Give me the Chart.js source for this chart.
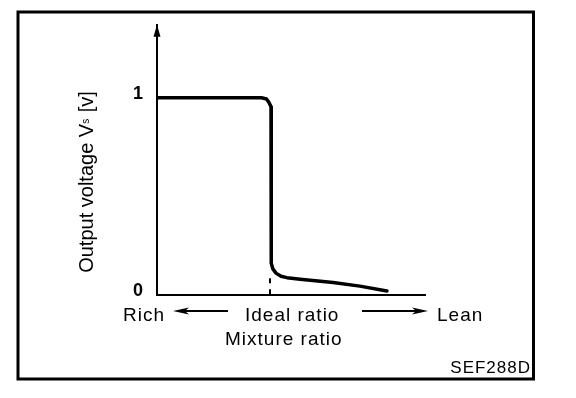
<!DOCTYPE html>
<html>
<head>
<meta charset="utf-8">
<script src="https://cdn.jsdelivr.net/npm/chart.js@4"></script>
<style>
  html, body { margin: 0; padding: 0; background: #fff; }
  #wrap { position: relative; width: 576px; height: 398px; }
</style>
</head>
<body>
<div id="wrap"><canvas id="chart" width="576" height="398"></canvas></div>
<script>
// mixture ratio (arbitrary units, 0 = far rich, 100 = far lean)
const curveX = [0, 37.7, 39.0, 40.86, 41.72, 42.54, 42.54, 42.72, 43.28, 44.4, 46.27, 48.5, 53.4, 65.7, 75.7, 85.8];
// output voltage Vs [v]
const curveY = [1.0, 1.0, 1.0, 0.994, 0.977, 0.955, 0.201, 0.161, 0.131, 0.111, 0.095, 0.088, 0.080, 0.063, 0.045, 0.020];

const idealX = [42.16, 42.16];
const idealY = [0.085, 0];

const yTicks = [0, 1];
const yMax = 1.37;

const yTitle = ["Output voltage V", "s", " [v]"];
const bottomLabels = { rich: "Rich", ideal: "Ideal ratio", lean: "Lean" };
const xTitle = "Mixture ratio";
const figCode = "SEF288D";

const FONT = "'Liberation Sans', Arial, sans-serif";

function toPoints(xs, ys) {
  return xs.map((x, i) => ({ x, y: ys[i] }));
}

function arrow(ctx, fromX, toX, y) {
  const dir = Math.sign(toX - fromX);
  ctx.beginPath();
  ctx.moveTo(fromX, y);
  ctx.lineTo(toX - dir * 12, y);
  ctx.stroke();
  ctx.beginPath();
  ctx.moveTo(toX, y);
  ctx.lineTo(toX - dir * 16, y - 3.5);
  ctx.lineTo(toX - dir * 12, y);
  ctx.lineTo(toX - dir * 16, y + 3.5);
  ctx.closePath();
  ctx.fill();
}

const decorations = {
  id: "decorations",
  afterDraw(chart) {
    const { ctx, chartArea } = chart;
    ctx.save();
    ctx.strokeStyle = "#000";
    ctx.fillStyle = "#000";

    // frame
    ctx.lineWidth = 3;
    ctx.strokeRect(18, 12, 515.5, 367);

    // arrow head on the y axis
    const ax = chartArea.left;
    ctx.beginPath();
    ctx.moveTo(ax, chartArea.top);
    ctx.lineTo(ax - 3.5, chartArea.top + 12);
    ctx.lineTo(ax + 3.5, chartArea.top + 12);
    ctx.closePath();
    ctx.fill();

    // y title, rotated, with subscript
    ctx.translate(93, 182);
    ctx.rotate(-Math.PI / 2);
    ctx.textBaseline = "alphabetic";
    ctx.textAlign = "left";
    ctx.font = `20px ${FONT}`;
    const w0 = ctx.measureText(yTitle[0]).width;
    const w2 = ctx.measureText(yTitle[2]).width;
    ctx.font = `10px ${FONT}`;
    const w1 = ctx.measureText(yTitle[1]).width + 1;
    let x = -(w0 + w1 + w2) / 2;
    ctx.font = `20px ${FONT}`;
    ctx.fillText(yTitle[0], x, 0);
    x += w0;
    ctx.font = `10px ${FONT}`;
    ctx.fillText(yTitle[1], x, -4);
    x += w1;
    ctx.font = `20px ${FONT}`;
    ctx.fillText(yTitle[2], x, 0);
    ctx.setTransform(1, 0, 0, 1, 0, 0);

    // bottom labels
    ctx.font = `19px ${FONT}`;
    ctx.letterSpacing = "1px";
    ctx.fillText(bottomLabels.rich, 123, 321);
    ctx.fillText(bottomLabels.ideal, 245, 321);
    ctx.fillText(bottomLabels.lean, 437, 321);
    ctx.fillText(xTitle, 225, 345);

    ctx.lineWidth = 2;
    arrow(ctx, 228, 173, 311);
    arrow(ctx, 362, 428, 311);

    ctx.font = `17px ${FONT}`;
    ctx.textAlign = "right";
    ctx.fillText(figCode, 531, 373);
    ctx.restore();
  },
};

new Chart(document.getElementById("chart"), {
  type: "line",
  data: {
    datasets: [
      {
        data: toPoints(curveX, curveY),
        borderColor: "#000",
        borderWidth: 3.5,
        pointRadius: 0,
        tension: 0,
        borderJoinStyle: "round",
        borderCapStyle: "round",
      },
      {
        data: toPoints(idealX, idealY),
        borderColor: "#000",
        borderWidth: 2,
        borderDash: [5, 6],
        pointRadius: 0,
      },
    ],
  },
  options: {
    responsive: false,
    animation: false,
    layout: { padding: { top: 23, right: 151, left: 0, bottom: 0 } },
    plugins: {
      legend: { display: false },
      tooltip: { enabled: false },
    },
    scales: {
      x: {
        type: "linear",
        min: 0,
        max: 100,
        grid: { display: false },
        border: { display: true, color: "#000", width: 2 },
        ticks: { display: false },
        afterFit: (scale) => { scale.height = 103; },
      },
      y: {
        type: "linear",
        min: 0,
        max: yMax,
        grid: { display: false, drawTicks: false },
        border: { display: true, color: "#000", width: 2 },
        afterBuildTicks: (scale) => { scale.ticks = yTicks.map((value) => ({ value })); },
        ticks: {
          color: "#000",
          padding: 14,
          labelOffset: -4,
          font: { family: FONT, size: 18, weight: "bold" },
        },
        afterFit: (scale) => { scale.width = 157; },
      },
    },
  },
  plugins: [decorations],
});
</script>
</body>
</html>
